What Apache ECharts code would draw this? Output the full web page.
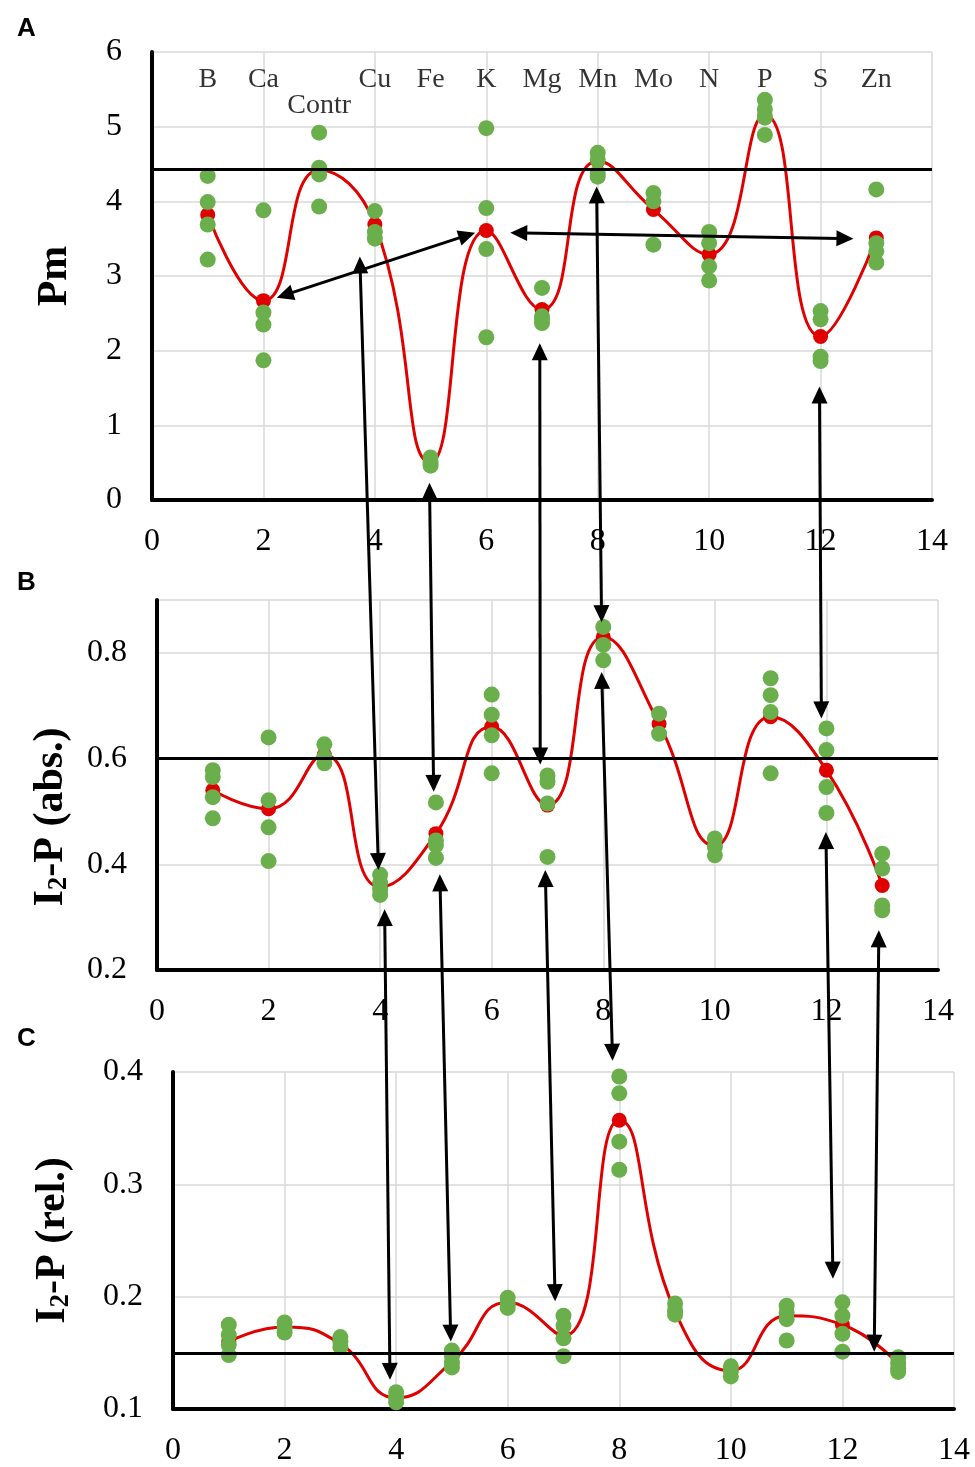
<!DOCTYPE html>
<html>
<head>
<meta charset="utf-8">
<script src="https://cdn.jsdelivr.net/npm/echarts@6/dist/echarts.min.js"></script>
<style>
html, body { margin: 0; padding: 0; background: #fff; }
#main { width: 975px; height: 1467px; }
</style>
</head>
<body>
<div id="main"></div>
<script>
// elements, one per x position 1..13
var elements = ['B', 'Ca', 'Contr', 'Cu', 'Fe', 'K', 'Mg', 'Mn', 'Mo', 'N', 'P', 'S', 'Zn'];
var xPos = [1, 2, 3, 4, 5, 6, 7, 8, 9, 10, 11, 12, 13];

// panel A: Pm
var pmMean = [3.82, 2.67, 4.42, 3.69, 0.50, 3.61, 2.55, 4.54, 3.89, 3.29, 5.16, 2.19, 3.51];
var pmReps = [
  [4.34, 3.99, 3.69, 3.22], [3.88, 2.51, 2.35, 1.87], [4.92, 4.45, 4.36, 3.93],
  [3.87, 3.59, 3.50], [0.57, 0.50, 0.46], [4.98, 3.91, 3.36, 2.18],
  [2.84, 2.46, 2.42, 2.37], [4.65, 4.56, 4.38, 4.33], [4.11, 4.00, 3.42],
  [3.59, 3.44, 3.13, 2.94], [5.36, 5.23, 5.12, 4.89], [2.53, 2.42, 1.92, 1.86],
  [4.16, 3.44, 3.33, 3.18]
];
var pmRef = 4.43;

// panel B: I2-P (abs.)
var absMean = [0.540, 0.505, 0.607, 0.357, 0.458, 0.660, 0.512, 0.830, 0.666, 0.435, 0.679, 0.578, 0.360];
var absReps = [
  [0.578, 0.565, 0.527, 0.487], [0.640, 0.521, 0.470, 0.406], [0.627, 0.603, 0.591],
  [0.380, 0.365, 0.352, 0.342], [0.517, 0.445, 0.436, 0.412], [0.721, 0.683, 0.644, 0.572],
  [0.568, 0.556, 0.515, 0.414], [0.849, 0.815, 0.786], [0.685, 0.647],
  [0.449, 0.433, 0.417], [0.752, 0.720, 0.688, 0.572], [0.657, 0.616, 0.546, 0.497],
  [0.420, 0.392, 0.322, 0.313]
];
var absRef = 0.603;

// panel C: I2-P (rel.)
var relMean = [0.160, 0.173, 0.158, 0.110, 0.142, 0.195, 0.165, 0.357, 0.187, 0.134, 0.183, 0.175, 0.140];
var relReps = [
  [0.175, 0.166, 0.157, 0.148], [0.177, 0.172, 0.168], [0.164, 0.160, 0.155],
  [0.115, 0.110, 0.106], [0.152, 0.147, 0.141, 0.137], [0.199, 0.194, 0.190],
  [0.183, 0.174, 0.163, 0.147], [0.396, 0.381, 0.338, 0.313], [0.194, 0.188, 0.184],
  [0.138, 0.134, 0.129], [0.192, 0.186, 0.180, 0.161], [0.195, 0.183, 0.167, 0.151],
  [0.146, 0.141, 0.136, 0.133]
];
var relRef = 0.147;

// arrows between panels: [panel, x, y] -> [panel, x, y], heads on both ends
var arrows = [
  [[0, 2.24, 2.71], [0, 5.80, 3.58]],
  [[0, 6.43, 3.58], [0, 12.59, 3.50]],
  [[0, 3.73, 3.26], [1, 3.97, 0.389]],
  [[0, 4.98, 0.23], [1, 4.96, 0.537]],
  [[0, 6.96, 2.10], [1, 6.87, 0.589]],
  [[0, 7.98, 4.20], [1, 7.97, 0.858]],
  [[0, 11.98, 1.52], [1, 11.91, 0.676]],
  [[1, 4.08, 0.315], [2, 3.89, 0.126]],
  [[1, 5.07, 0.381], [2, 4.98, 0.160]],
  [[1, 6.96, 0.389], [2, 6.85, 0.196]],
  [[1, 7.97, 0.764], [2, 7.88, 0.410]],
  [[1, 11.99, 0.461], [2, 11.83, 0.216]],
  [[1, 12.94, 0.275], [2, 12.57, 0.151]]
];

var serif = 'Liberation Serif';
var green = '#6aaf4c';
var red = '#e00000';

var myChart = echarts.init(document.getElementById('main'));

function xAxisFor(i) {
  return {
    gridIndex: i, type: 'value', min: 0, max: 14, interval: 2,
    axisLine: { show: true, onZero: false, lineStyle: { color: '#000', width: 4 } },
    axisTick: { show: false },
    axisLabel: { fontFamily: serif, fontSize: 32, color: '#000', margin: 26 },
    splitLine: { show: true, lineStyle: { color: '#d9d9d9', width: 1.5 } }
  };
}

function yAxisFor(i, min, max, step, digits, hideMax, name, gap, pad) {
  return {
    gridIndex: i, type: 'value', min: min, max: max, interval: step,
    axisLine: { show: true, onZero: false, lineStyle: { color: '#000', width: 4 } },
    axisTick: { show: false },
    axisLabel: {
      fontFamily: serif, fontSize: 32, color: '#000', margin: 30, showMaxLabel: !hideMax,
      formatter: function (v) { return v.toFixed(digits); }
    },
    splitLine: { show: true, lineStyle: { color: '#d9d9d9', width: 1.5 } },
    name: name, nameLocation: 'middle', nameRotate: 90, nameGap: gap,
    nameTextStyle: {
      fontFamily: serif, fontWeight: 'bold', fontSize: 42, color: '#000', padding: pad,
      rich: {
        m: { fontFamily: serif, fontWeight: 'bold', fontSize: 42, color: '#000', lineHeight: 44 },
        s: { fontFamily: serif, fontWeight: 'bold', fontSize: 27, color: '#000', lineHeight: 44, verticalAlign: 'bottom', padding: [12, 0, 0, 0] }
      }
    }
  };
}

function meanSeries(i, means, ref) {
  return {
    type: 'line', xAxisIndex: i, yAxisIndex: i,
    data: xPos.map(function (x, k) { return [x, means[k]]; }),
    smooth: 0.5, symbol: 'circle', symbolSize: 15, showSymbol: true,
    itemStyle: { color: red }, lineStyle: { color: red, width: 3 },
    markLine: {
      silent: true, symbol: ['none', 'none'], label: { show: false },
      lineStyle: { color: '#000', width: 3, type: 'solid' },
      data: [{ yAxis: ref }]
    },
    z: 3
  };
}

function repSeries(i, reps) {
  var pts = [];
  reps.forEach(function (vals, k) {
    vals.forEach(function (v) { pts.push([xPos[k], v]); });
  });
  return {
    type: 'scatter', xAxisIndex: i, yAxisIndex: i, data: pts,
    symbolSize: 16, itemStyle: { color: green, opacity: 1 }, z: 4
  };
}

var labelSeries = {
  type: 'scatter', xAxisIndex: 0, yAxisIndex: 0, symbolSize: 0, silent: true,
  data: elements.map(function (e, k) { return { name: e, value: [xPos[k], e === 'Contr' ? 5.28 : 5.63] }; }),
  label: {
    show: true, position: 'inside', formatter: '{b}',
    fontFamily: serif, fontSize: 28, color: '#000'
  },
  z: 5
};

var letterStyle = { fontFamily: 'Liberation Sans', fontWeight: 'bold', fontSize: 26, color: '#000' };

myChart.setOption({
  animation: false,
  backgroundColor: '#fff',
  title: [
    { text: 'A', left: 12, top: 11, textStyle: letterStyle },
    { text: 'B', left: 12, top: 565, textStyle: letterStyle },
    { text: 'C', left: 12, top: 1021, textStyle: letterStyle }
  ],
  grid: [
    { left: 152, top: 52, width: 780, height: 448 },
    { left: 157, top: 600, width: 781, height: 370 },
    { left: 173, top: 1072, width: 781, height: 339 }
  ],
  xAxis: [xAxisFor(0), xAxisFor(1), xAxisFor(2)],
  yAxis: [
    yAxisFor(0, 0, 6, 1, 0, false, 'Pm', 76, 0),
    yAxisFor(1, 0.2, 0.9, 0.2, 1, true, '{m|I}{s|2}{m|-P (abs.)}', 84, [0, 64, 0, 0]),
    yAxisFor(2, 0.1, 0.4, 0.1, 1, false, '{m|I}{s|2}{m|-P (rel.)}', 98, 0)
  ],
  series: [
    meanSeries(0, pmMean, pmRef), repSeries(0, pmReps),
    meanSeries(1, absMean, absRef), repSeries(1, absReps),
    meanSeries(2, relMean, relRef), repSeries(2, relReps),
    labelSeries
  ]
});

// double-headed arrows, endpoints mapped through each panel's axes
function arrowParts(p0, p1) {
  var dx = p1[0] - p0[0], dy = p1[1] - p0[1];
  var len = Math.sqrt(dx * dx + dy * dy);
  var ux = dx / len, uy = dy / len, nx = -uy, ny = ux;
  var hl = 17, hw = 8;
  function head(tip, dir) {
    var bx = tip[0] - dir * ux * hl, by = tip[1] - dir * uy * hl;
    return {
      type: 'polygon', z: 100, silent: true,
      shape: { points: [tip, [bx + nx * hw, by + ny * hw], [bx - nx * hw, by - ny * hw]] },
      style: { fill: '#000' }
    };
  }
  return [
    {
      type: 'line', z: 100, silent: true,
      shape: { x1: p0[0] + ux * hl * 0.8, y1: p0[1] + uy * hl * 0.8, x2: p1[0] - ux * hl * 0.8, y2: p1[1] - uy * hl * 0.8 },
      style: { stroke: '#000', lineWidth: 3 }
    },
    head(p1, 1), head(p0, -1)
  ];
}

var gfx = [];
arrows.forEach(function (a) {
  var p0 = myChart.convertToPixel({ gridIndex: a[0][0] }, [a[0][1], a[0][2]]);
  var p1 = myChart.convertToPixel({ gridIndex: a[1][0] }, [a[1][1], a[1][2]]);
  gfx = gfx.concat(arrowParts(p0, p1));
});
myChart.setOption({ graphic: gfx });
</script>
</body>
</html>
